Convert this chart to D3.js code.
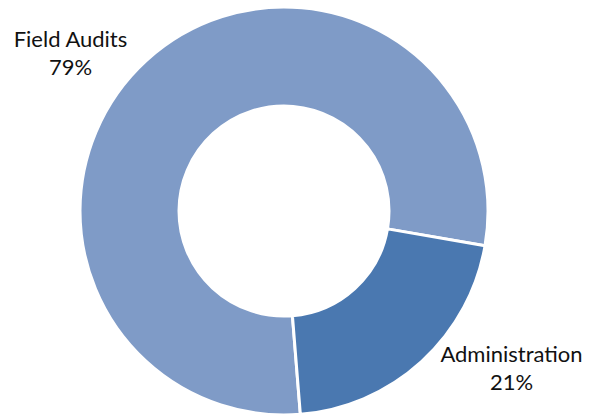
<!DOCTYPE html>
<html>
<head>
<meta charset="utf-8">
<script src="https://cdn.jsdelivr.net/npm/d3@7"></script>
<style>
  html, body { margin: 0; padding: 0; background: #ffffff; }
  svg { display: block; }
  text { font-family: Lato, "Open Sans", sans-serif; fill: #111111; }
</style>
</head>
<body>
<svg id="chart" width="602" height="418"></svg>
<script>
// Share of effort by activity (percent)
const categories = ["Field Audits", "Administration"];
const shares = [79, 21];
const sliceColors = ["#7f9bc7", "#4a78b0"];

const width = 602, height = 418;
const cx = 284, cy = 211;
const outerR = 204, innerR = 105;

const svg = d3.select("#chart");
const g = svg.append("g").attr("transform", `translate(${cx},${cy})`);

const data = categories.map((c, i) => ({ name: c, value: shares[i] }));

const startDeg = 175.4;
const pie = d3.pie()
  .sort(null)
  .value(d => d.value)
  .startAngle(startDeg * Math.PI / 180)
  .endAngle(startDeg * Math.PI / 180 + 2 * Math.PI);

const arc = d3.arc().innerRadius(innerR).outerRadius(outerR);
const color = d3.scaleOrdinal().domain(categories).range(sliceColors);

g.selectAll("path.slice")
  .data(pie(data))
  .join("path")
  .attr("class", "slice")
  .attr("d", arc)
  .attr("fill", d => color(d.data.name))
  .attr("stroke", "#ffffff")
  .attr("stroke-width", 3)
  .attr("stroke-linejoin", "miter");

// Data labels placed outside the ring
const labelPos = {
  "Field Audits": { x: 70.5, y: 47 },
  "Administration": { x: 511.5, y: 362 }
};

const labels = svg.append("g").attr("class", "labels");
data.forEach(d => {
  const p = labelPos[d.name];
  const t = labels.append("text")
    .attr("text-anchor", "middle")
    .attr("font-size", 22);
  t.append("tspan").attr("x", p.x).attr("y", p.y).text(d.name);
  t.append("tspan").attr("x", p.x).attr("y", p.y + 28).text(d.value + "%");
});
</script>
</body>
</html>
